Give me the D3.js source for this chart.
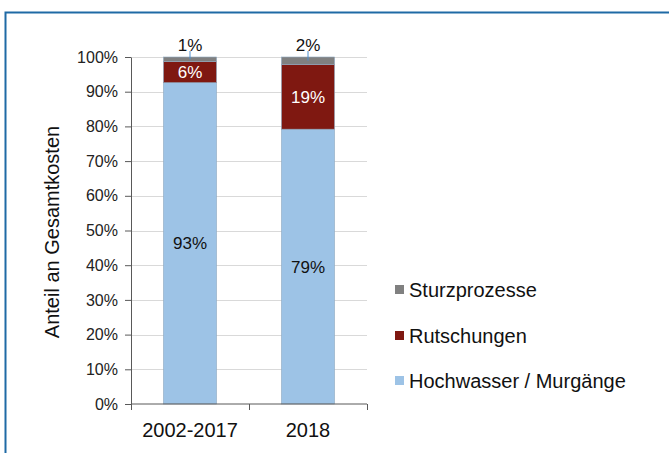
<!DOCTYPE html>
<html>
<head>
<meta charset="utf-8">
<script src="https://cdn.jsdelivr.net/npm/d3@7"></script>
<style>
  html, body { margin: 0; padding: 0; background: #fff; }
  svg { display: block; font-family: 'Liberation Sans', Arial, sans-serif; }
</style>
</head>
<body>
<div id="chart"></div>
<script>
// ── Data ──
var categories = ['2002-2017', '2018'];
var seriesNames = ['Hochwasser / Murgänge', 'Rutschungen', 'Sturzprozesse'];
var hochwasser = [92.6, 79.2];
var rutschungen = [6.1, 18.7];
var sturz = [1.3, 2.1];
var labelsHochwasser = ['93%', '79%'];
var labelsRutschungen = ['6%', '19%'];
var labelsSturz = ['1%', '2%'];
var yTicks = [0, 10, 20, 30, 40, 50, 60, 70, 80, 90, 100];

var COLORS = ['#9dc3e6', '#7f1811', '#808080'];
var W = 669, H = 453;
var plot = { left: 131, right: 367, top: 57, bottom: 404 };

var svg = d3.select('#chart').append('svg')
  .attr('width', W).attr('height', H);

// frame
svg.append('path')
  .attr('d', 'M5.5,' + H + 'V12.5H' + W)
  .attr('fill', 'none')
  .attr('stroke', '#1f6aa5')
  .attr('stroke-width', 2);

var x = d3.scaleBand().domain(categories)
  .range([plot.left, plot.right]).paddingInner(0.55).paddingOuter(0.275);
var y = d3.scaleLinear().domain([0, 100]).range([plot.bottom, plot.top]);

// gridlines
svg.append('g').selectAll('line')
  .data(yTicks.slice(1))
  .join('line')
  .attr('x1', plot.left).attr('x2', plot.right)
  .attr('y1', function (d) { return Math.round(y(d)) + 0.5; })
  .attr('y2', function (d) { return Math.round(y(d)) + 0.5; })
  .attr('stroke', '#d9d9d9');

// stacked bars
var rows = categories.map(function (c, i) {
  return { cat: c, h: hochwasser[i], r: rutschungen[i], s: sturz[i] };
});
var stack = d3.stack().keys(['h', 'r', 's'])(rows);

svg.append('g').selectAll('g')
  .data(stack)
  .join('g')
  .attr('fill', function (d, i) { return COLORS[i]; })
  .selectAll('rect')
  .data(function (d) { return d; })
  .join('rect')
  .attr('x', function (d) { return x(d.data.cat); })
  .attr('width', x.bandwidth())
  .attr('y', function (d) { return y(d[1]); })
  .attr('height', function (d) { return y(d[0]) - y(d[1]); })
  .attr('stroke', '#8fa9c0')
  .attr('stroke-width', 0.6);

// axes
var yAxis = svg.append('g')
  .attr('transform', 'translate(' + plot.left + ',0)')
  .call(d3.axisLeft(y).tickValues(yTicks).tickSize(6).tickSizeOuter(0)
    .tickFormat(function (d) { return d + '%'; }));
yAxis.select('.domain').attr('stroke', '#595959');
yAxis.selectAll('.tick line').attr('stroke', '#595959');
yAxis.selectAll('text').attr('font-size', 16).attr('fill', '#222')
  .attr('font-family', 'Liberation Sans, Arial, sans-serif').attr('x', -13);

var xAxis = svg.append('g')
  .attr('transform', 'translate(0,' + plot.bottom + ')');
xAxis.append('line')
  .attr('x1', plot.left).attr('x2', plot.right)
  .attr('stroke', '#595959');
var bounds = [plot.left, (x(categories[0]) + x.bandwidth() + x(categories[1])) / 2, plot.right];
xAxis.selectAll('.xt').data(bounds).join('line')
  .attr('x1', function (d) { return Math.round(d) + 0.5; })
  .attr('x2', function (d) { return Math.round(d) + 0.5; })
  .attr('y1', 0).attr('y2', 6)
  .attr('stroke', '#595959');
xAxis.selectAll('text').data(categories).join('text')
  .attr('x', function (d) { return x(d) + x.bandwidth() / 2; })
  .attr('y', 33)
  .attr('text-anchor', 'middle')
  .attr('font-size', 20)
  .attr('fill', '#111')
  .text(function (d) { return d; });

// y title
svg.append('text')
  .attr('transform', 'translate(59,232) rotate(-90)')
  .attr('text-anchor', 'middle')
  .attr('font-size', 20)
  .attr('fill', '#111')
  .text('Anteil an Gesamtkosten');

// value labels
var lab = svg.append('g').attr('text-anchor', 'middle');
rows.forEach(function (r, i) {
  var cx = x(r.cat) + x.bandwidth() / 2;
  lab.append('text').attr('x', cx).attr('y', y(r.h / 2)).attr('dy', '0.35em')
    .attr('font-size', 17).attr('fill', '#111').text(labelsHochwasser[i]);
  lab.append('text').attr('x', cx).attr('y', y(r.h + r.r / 2)).attr('dy', '0.35em')
    .attr('font-size', 17).attr('fill', '#fff').text(labelsRutschungen[i]);
  lab.append('line').attr('x1', cx).attr('x2', cx)
    .attr('y1', y(100) - 6).attr('y2', y(100 - r.s / 2))
    .attr('stroke', '#4f8fcf').attr('stroke-width', 1);
  lab.append('text').attr('x', cx).attr('y', y(100) - 6)
    .attr('font-size', 17).attr('fill', '#111').text(labelsSturz[i]);
});

// legend
var legendY = [381, 336, 290];
var lg = svg.append('g');
seriesNames.forEach(function (name, i) {
  lg.append('rect').attr('x', 395).attr('y', legendY[i] - 5)
    .attr('width', 9).attr('height', 9).attr('fill', COLORS[i]);
  lg.append('text').attr('x', 409).attr('y', legendY[i]).attr('dy', '0.35em')
    .attr('font-size', 20).attr('fill', '#111').text(name);
});
</script>
</body>
</html>
